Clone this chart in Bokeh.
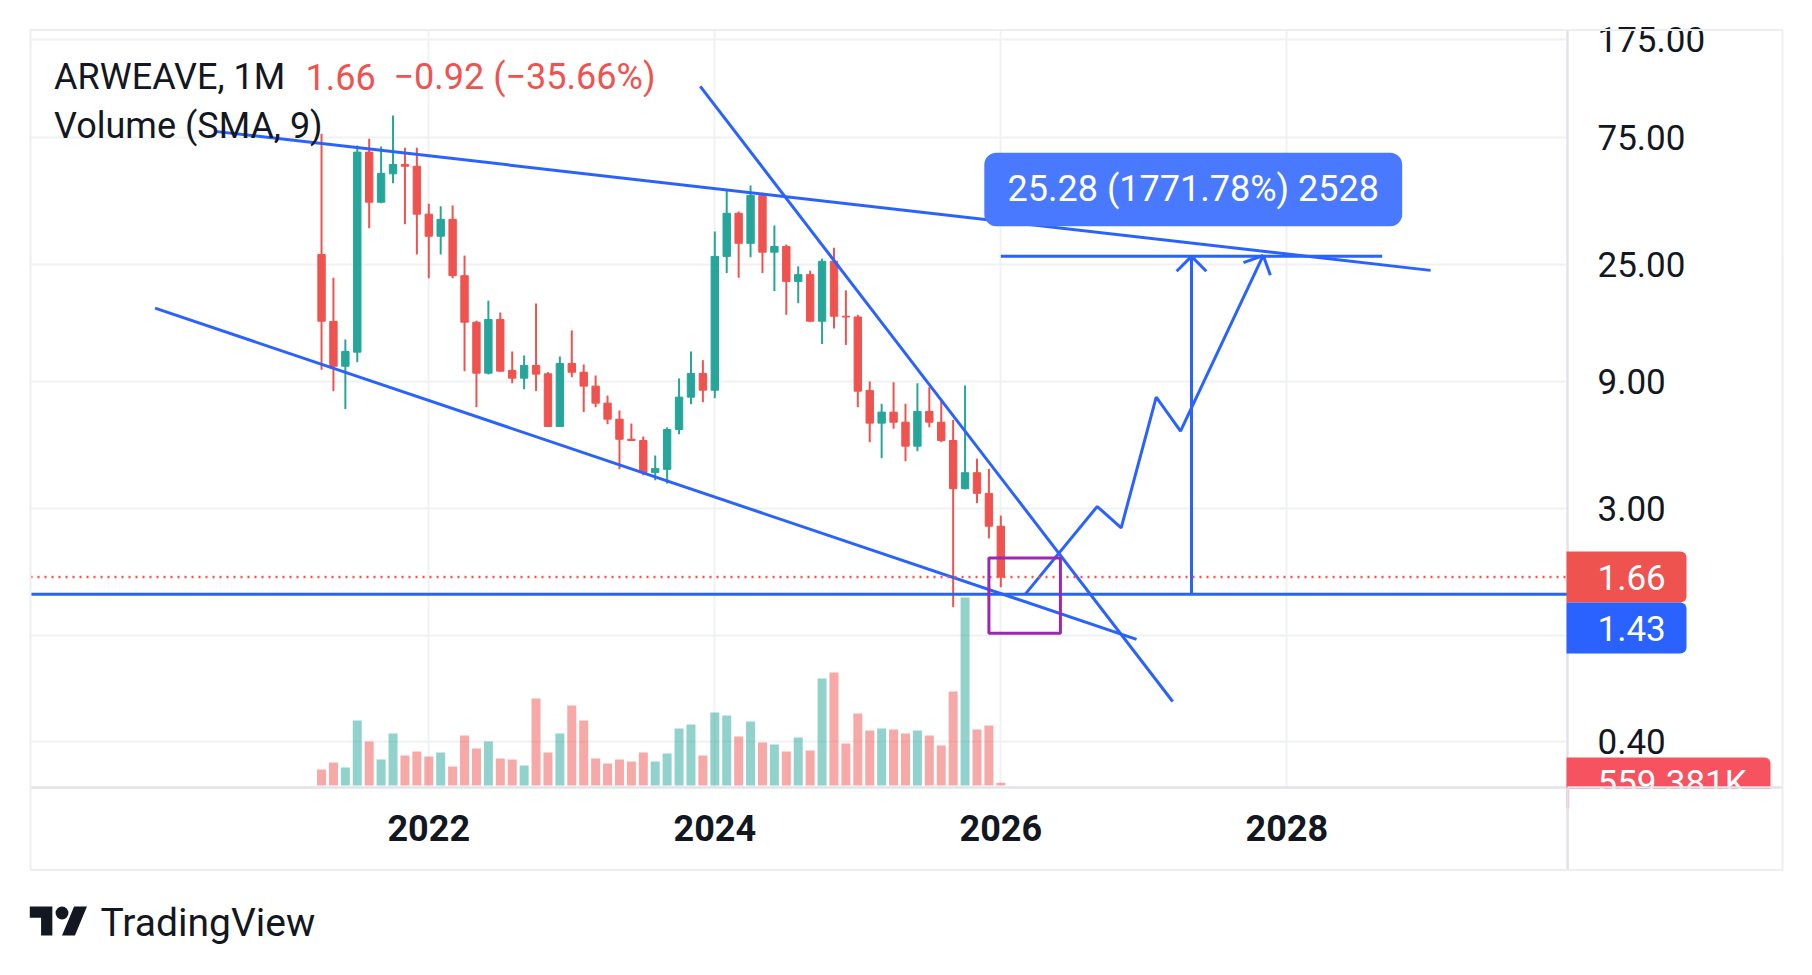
import math
from bokeh.plotting import figure
from bokeh.layouts import column
from bokeh.models import (Range1d, LinearScale, FixedTicker, Span, BoxAnnotation, Label,
                          ColumnDataSource, GridBox)
from bokeh.embed import file_html
from bokeh.resources import INLINE

# ---------------- data (x = months since Jan 2020; first bar Apr 2021, last Jan 2026) -------------
months = list(range(15, 73))
opens = [27.15, 15.2, 10.31, 11.65, 65.9, 42.7, 54.6, 59.2, 58.3, 38.5,
         31.8, 36.8, 22.6, 15.1, 9.71, 15.46, 9.95, 9.30, 10.38, 9.66,
         6.12, 10.56, 9.79, 8.68, 7.49, 6.52, 5.48, 5.42, 4.11, 4.22,
         5.96, 7.89, 9.69, 8.38, 26.7, 38.8, 29.9, 45.3, 27.7, 29.1,
         21.5, 22.8, 15.23, 25.6, 15.9, 15.8, 8.35, 6.30, 6.93, 6.35,
         5.16, 6.97, 6.35, 5.42, 3.57, 4.10, 3.43, 2.58]
highs = [77.3, 22.19, 13.0, 69.8, 73.96, 69.2, 90.5, 68.4, 68.4, 42.1,
         41.2, 41.5, 26.9, 15.3, 18.2, 16.43, 11.72, 11.32, 17.76, 9.8,
         11.22, 14.06, 10.47, 9.52, 8.0, 7.03, 6.28, 5.61, 4.76, 6.07,
         9.28, 11.72, 10.87, 33.1, 47.3, 39.4, 49.4, 46.3, 34.9, 29.6,
         24.5, 23.6, 26.2, 28.8, 19.9, 16.1, 9.04, 7.45, 8.98, 7.45,
         8.90, 8.60, 7.78, 6.48, 8.73, 4.63, 4.24, 2.83]
lows = [10.0, 8.31, 7.11, 10.68, 34.1, 42.35, 50.35, 35.3, 27.15, 22.1,
        27.15, 22.1, 9.88, 7.23, 9.6, 9.85, 8.9, 8.45, 8.31, 6.1,
        6.1, 9.38, 6.93, 7.23, 6.24, 4.23, 5.40, 4.01, 3.84, 3.73,
        5.72, 7.42, 7.55, 7.82, 23.1, 22.19, 26.5, 23.1, 19.76, 16.1,
        17.8, 15.2, 12.5, 14.3, 12.4, 7.23, 5.34, 4.65, 6.0, 4.53,
        4.94, 6.08, 5.34, 1.279, 3.55, 3.15, 2.32, 1.52]
closes = [15.23, 10.31, 11.72, 65.9, 42.7, 54.8, 59.2, 58.3, 38.5, 31.8,
          36.8, 22.6, 15.1, 9.71, 15.46, 9.88, 9.30, 10.38, 9.63, 6.12,
          10.56, 9.79, 8.68, 7.49, 6.52, 5.48, 5.42, 4.11, 4.25, 5.96,
          7.89, 9.69, 8.38, 26.7, 38.8, 29.9, 45.3, 27.7, 29.1, 21.5,
          22.8, 15.23, 25.6, 15.9, 15.8, 8.31, 6.30, 6.93, 6.35, 5.16,
          6.97, 6.35, 5.42, 3.57, 4.10, 3.43, 2.58, 1.66]
volumes_m = [3.2, 4.6, 3.6, 13.0, 8.8, 5.2, 10.4, 6.0, 6.8, 5.8,
             6.6, 3.8, 10.0, 7.4, 8.8, 5.4, 5.2, 4.0, 17.4, 6.6,
             10.4, 16.0, 13.0, 5.4, 4.4, 5.2, 4.8, 6.6, 4.8, 6.4,
             11.4, 12.2, 6.0, 14.6, 14.0, 9.8, 12.8, 8.6, 8.2, 6.8,
             9.6, 7.0, 21.4, 22.6, 8.4, 14.4, 11.0, 11.4, 11.2, 10.4,
             11.0, 10.0, 8.0, 18.8, 37.6, 11.2, 12.0, 0.559381]

year_ticks = [24, 48, 72, 96]
year_labels = ["2022", "2024", "2026", "2028"]
price_ticks = [0.4, 1, 3, 9, 25, 75, 175]
price_labels = ["0.40", "", "3.00", "9.00", "25.00", "75.00", "175.00"]

last_price = 1.66
support_level = 1.43
last_volume_label = "559.381K"

# drawings (month, price)
upper_x = [6.23, 108.06]
upper_y = [78.7, 23.66]
lower_x = [1.03, 83.39]
lower_y = [17.06, 0.968]
steep_x = [46.78, 86.42]
steep_y = [116.5, 0.565]
box_x = [71.0, 77.0]
box_y = [1.02, 1.96]
range_x = [72.0, 104.0]
range_y = [1.43, 26.71]
path_x = [74.07, 80.09, 82.10, 85.04, 87.08, 94.02]
path_y = [1.436, 3.06, 2.544, 7.886, 5.875, 26.92]

# ---------------- styles ----------------
UP, DOWN, BLUE, PURPLE = "#26a69a", "#ef5350", "#2962ff", "#9c27b0"
TEXT, GRID, SEP, FONT = "#131722", "#f0f1f3", "#e0e3eb", "Roboto"
FL, FT, FR, FB = 30, 29, 1567, 787     # plot pane edges in page pixels
W, H = 1800, 965
XR = (-9.42, 119.55)
YR = (0.2683, 190.6)

colors = [UP if c > o else DOWN for o, c in zip(opens, closes)]
src = ColumnDataSource(dict(
    x=months, o=opens, h=highs, l=lows, c=closes, color=colors, vol=volumes_m,
    top=[max(o, c) for o, c in zip(opens, closes)],
    bot=[min(o, c) for o, c in zip(opens, closes)],
))

p = figure(width=W, height=H, x_range=Range1d(*XR), y_range=Range1d(*YR),
           y_axis_type="log", y_axis_location="right",
           output_backend="svg", toolbar_location=None,
           min_border_left=FL, min_border_top=FT, min_border_right=W - FR,
           min_border_bottom=H - FB, outline_line_color=None,
           background_fill_color="white", border_fill_color="white")
p.extra_y_ranges = {"vol": Range1d(-0.4, 151.2)}
p.extra_y_scales = {"vol": LinearScale()}

# axes
p.xaxis.ticker = FixedTicker(ticks=year_ticks)
p.xaxis.major_label_overrides = dict(zip(year_ticks, year_labels))
p.xaxis.axis_line_color = SEP
p.xaxis.axis_line_width = 2.5
p.xaxis.major_tick_line_color = None
p.xaxis.minor_tick_line_color = None
p.xaxis.major_label_standoff = 21
p.xaxis.major_label_text_font = FONT
p.xaxis.major_label_text_font_size = "36px"
p.xaxis.major_label_text_font_style = "bold"
p.xaxis.major_label_text_color = TEXT

p.yaxis.ticker = FixedTicker(ticks=price_ticks)
p.yaxis.major_label_overrides = dict(zip(price_ticks, price_labels))
p.yaxis.axis_line_color = SEP
p.yaxis.axis_line_width = 2.5
p.yaxis.major_tick_line_color = None
p.yaxis.minor_tick_line_color = None
p.yaxis.major_label_standoff = 24
p.yaxis.major_label_text_font = FONT
p.yaxis.major_label_text_font_size = "35px"
p.yaxis.major_label_text_color = TEXT

p.xgrid.ticker = FixedTicker(ticks=year_ticks)
p.ygrid.ticker = FixedTicker(ticks=price_ticks)
for g in (p.xgrid, p.ygrid):
    g.grid_line_color = GRID
    g.grid_line_width = 2

# volume
p.vbar(x="x", width=0.755, top="vol", bottom=0, source=src, y_range_name="vol",
       fill_color="color", fill_alpha=0.5, line_color=None)

# candles
p.segment(x0="x", y0="l", x1="x", y1="h", source=src, line_color="color", line_width=2)
p.vbar(x="x", width=0.62, top="top", bottom="bot", source=src,
       fill_color="color", line_color="color", line_width=1)

# last price + support lines
p.add_layout(Span(location=last_price, dimension="width", line_color=DOWN,
                  line_width=2.5, line_dash="2 5"))
p.add_layout(Span(location=support_level, dimension="width", line_color=BLUE, line_width=3))

# trend lines
for xs, ys in ((upper_x, upper_y), (lower_x, lower_y), (steep_x, steep_y)):
    p.line(xs, ys, line_color=BLUE, line_width=3)

# purple box
p.add_layout(BoxAnnotation(left=box_x[0], right=box_x[1], bottom=box_y[0], top=box_y[1],
                           fill_color=None, fill_alpha=0, line_color=PURPLE,
                           line_width=3, line_alpha=1))

# helpers to build 45-degree open arrow heads (21 px wings) in data space
PXM = (FR - FL) / (XR[1] - XR[0])
PXD = (FB - FT) / (math.log10(YR[1]) - math.log10(YR[0]))


def arrow_head(x0, y0, x1, y1, length=21.0):
    dx = (x1 - x0) * PXM
    dy = (math.log10(y1) - math.log10(y0)) * PXD
    n = math.hypot(dx, dy)
    bx, by = -dx / n, -dy / n
    xs, ys = [], []
    for a in (math.pi / 4, -math.pi / 4):
        wx = bx * math.cos(a) - by * math.sin(a)
        wy = bx * math.sin(a) + by * math.cos(a)
        xs.append([x1 + length * wx / PXM, x1])
        ys.append([y1 * 10 ** (length * wy / PXD), y1])
    return xs, ys


# price range tool
mid = (range_x[0] + range_x[1]) / 2
p.line(range_x, [range_y[1], range_y[1]], line_color=BLUE, line_width=3)
p.line([mid, mid], range_y, line_color=BLUE, line_width=3)
hx, hy = arrow_head(mid, range_y[0], mid, range_y[1])
p.multi_line(hx, hy, line_color=BLUE, line_width=3)

# projected path
p.line(path_x, path_y, line_color=BLUE, line_width=3)
hx, hy = arrow_head(path_x[-2], path_y[-2], path_x[-1], path_y[-1])
p.multi_line(hx, hy, line_color=BLUE, line_width=3)

# callout box of the price range
p.add_layout(BoxAnnotation(left=983.8 - FL, right=1401.7 - FL, top=FB - 152.3, bottom=FB - 225.7,
                           left_units="screen", right_units="screen",
                           top_units="screen", bottom_units="screen",
                           fill_color="#4979ff", fill_alpha=1, line_color=None, border_radius=12))


def slabel(X, Y, text, color, size="36px", align="left"):
    """Text whose middle sits at page pixel (X, Y), inside the plot pane."""
    p.add_layout(Label(x=X - FL, y=FB - Y, x_units="screen", y_units="screen", text=text,
                       text_color=color, text_font=FONT, text_font_size=size,
                       text_align=align, text_baseline="middle"))


slabel(1192.75, 188.9, "25.28 (1771.78%) 2528", "white", align="center")
slabel(53.6, 76.5, "ARWEAVE, 1M", TEXT)
slabel(305, 76.5, "1.66", DOWN)
slabel(393, 76.5, "\u22120.92 (\u221235.66%)", DOWN)
slabel(53.6, 125.5, "Volume (SMA, 9)", TEXT)

# ---------------- overlay in page pixels: price tags, pane borders, logo ----------------
ov = figure(width=W, height=H, x_range=Range1d(0, W), y_range=Range1d(H, 0),
            output_backend="svg", toolbar_location=None, min_border=0,
            x_axis_location=None, y_axis_location=None, outline_line_color=None,
            background_fill_color=None, border_fill_color=None)
ov.grid.visible = False


def obox(X0, X1, Y0, Y1, color=None, radius=0, line=None, lw=0):
    ov.add_layout(BoxAnnotation(left=X0, right=X1, top=Y0, bottom=Y1,
                                fill_color=color, fill_alpha=1 if color else 0,
                                line_color=line, line_width=lw, line_alpha=1 if line else 0,
                                border_radius=radius))


def otext(X, Y, text, color, size="35px"):
    ov.add_layout(Label(x=X, y=Y, text=text, text_color=color, text_font=FONT,
                        text_font_size=size, text_baseline="middle", text_align="left"))


obox(1566, 1686, 551, 602, DOWN, radius=(0, 6, 6, 0))
otext(1597, 576.6, f"{last_price:.2f}", "white")
obox(1566, 1686, 602, 653, BLUE, radius=(0, 6, 6, 0))
otext(1597, 627.5, f"{support_level:.2f}", "white")
obox(1566, 1770, 757, 808, "#f7525f", radius=(0, 6, 6, 0))
otext(1597, 782.5, last_volume_label, "white")
# the volume tag is cut by the time-scale pane
obox(1568.6, 1780.5, 788.4, 867.5, "white")
obox(1567, 1782, 785.8, 788.3, SEP)
obox(1565.8, 1568.4, 787, 869, SEP)
obox(30, 1782, 29.5, 869.5, None, line="#eceef2", lw=2)

# TradingView logo (36x28 icon scaled) + wordmark
s, ox, oy = 1.611, 29.3, 906 - 4 * 1.611
ov.patch([ox + s * u for u in (0, 14, 14, 7, 7, 0)],
         [oy + s * v for v in (4, 4, 22, 22, 11, 11)], fill_color=TEXT, line_color=None)
ov.patch([ox + s * u for u in (20, 28, 35.5, 27.5)],
         [oy + s * v for v in (22, 22, 4, 4)], fill_color=TEXT, line_color=None)
ov.scatter([ox + s * 20], [oy + s * 8], size=2 * 4 * s, fill_color=TEXT, line_color=None)
otext(100, 922.5, "TradingView", TEXT, size="39px")

layout = GridBox(children=[(p, 0, 0), (column(ov), 0, 0)])
open("out.html", "w").write(file_html(layout, INLINE))
